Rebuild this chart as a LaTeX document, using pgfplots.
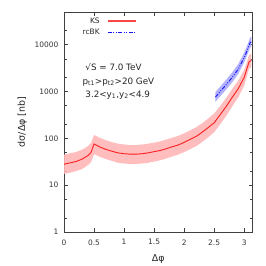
\documentclass[border=0pt]{standalone}
\usepackage{pgfplots}
\pgfplotsset{compat=1.18}
\usepackage{pgfplotstable}
\usepgfplotslibrary{fillbetween}
\usepackage{fontspec}
\setmainfont{DejaVu Sans}
\definecolor{ksred}{RGB}{250,30,30}
\definecolor{kslegend}{RGB}{255,70,70}
\definecolor{ksband}{RGB}{255,182,182}
\definecolor{bkblue}{RGB}{20,20,240}
\definecolor{bkband}{RGB}{170,170,255}
\pgfplotstableread{
x y lo hi
0 28 17.5 45
0.1 30 18.5 48
0.2 32 20 51
0.3 36 22 57
0.4 43 27 68
0.45 50 31 79
0.5 76 46 118
0.52 74 45 115
0.6 65 40 102
0.7 58 36 91
0.8 53 33 83
0.9 49 30 77
1.0 47 29 74
1.1 46 28.5 72
1.2 46 28.5 72
1.3 47 29 74
1.4 49 30 77
1.5 52 32 81
1.6 55 34 86
1.7 60 37 94
1.8 66 41 103
1.9 72 45 113
2.0 82 51 128
2.1 95 59 148
2.2 110 68 172
2.3 135 84 210
2.4 170 105 265
2.5 215 135 340
2.6 320 200 490
2.7 480 300 730
2.8 750 480 1130
2.9 1150 750 1700
3.0 2000 1350 2900
3.05 3200 2250 4500
3.08 4300 3100 6000
3.12 4600 3300 6400
}\kstab
\pgfplotstableread{
x y lo hi
2.52 760 600 970
2.6 1000 790 1280
2.7 1400 1100 1790
2.8 2000 1580 2560
2.9 3000 2370 3840
3.0 5300 4200 6800
3.05 7600 6000 9700
3.1 11200 8800 14300
3.12 11500 9100 14700
}\bktab
\begin{document}
\begin{tikzpicture}
\begin{axis}[
  at={(0,0)}, anchor=south west,
  scale only axis, width=188.7bp, height=220bp,
  ymode=log, xmin=0, xmax=3.14159, ymin=1, ymax=50000,
  xtick={0,0.5,1,1.5,2,2.5,3},
  xticklabels={0,0.5,1,1.5,2,2.5,3},
  ytick={1,10,100,1000,10000},
  yticklabels={1,10,100,1000,10000},
  minor ytick={2,5,20,50,200,500,2000,5000,20000,50000},
  tick align=inside, major tick length=4bp, minor tick length=2.5bp,
  tick style={black!75, line width=0.5pt},
  axis line style={black!75, line width=0.6pt},
  ticklabel style={font=\fontsize{7.5}{9}\selectfont, text=black!80},
  xticklabel style={yshift=-4bp},
  yticklabel style={xshift=-2bp},
  /pgf/number format/assume math mode=true,
  xlabel={Δφ}, ylabel={dσ/Δφ [nb]},
  label style={font=\fontsize{9.5}{11}\selectfont, text=black!85},
  xlabel style={yshift=-3bp},
  ylabel style={yshift=1bp},
]
\addplot[name path=ksu, draw=none, forget plot] table[x=x,y=hi]{\kstab};
\addplot[name path=ksl, draw=none, forget plot] table[x=x,y=lo]{\kstab};
\addplot[ksband, fill opacity=0.9, forget plot] fill between[of=ksu and ksl];
\addplot[name path=bku, draw=none, forget plot] table[x=x,y=hi]{\bktab};
\addplot[name path=bkl, draw=none, forget plot] table[x=x,y=lo]{\bktab};
\addplot[bkband, fill opacity=0.9, forget plot] fill between[of=bku and bkl];
\addplot[color=ksred, line width=0.9pt, no markers] table[x=x,y=y]{\kstab};
\addplot[color=bkblue, line width=0.9pt, no markers, dash pattern=on 4pt off 1.5pt on 1pt off 1.5pt on 1pt off 1.5pt] table[x=x,y=y]{\bktab};
% legend
\node[anchor=east, inner sep=0pt, font=\fontsize{7.5}{9}\selectfont, text=black!85] at (rel axis cs:0.19,0.958) {KS};
\fill[kslegend] ([yshift=-0.8bp]rel axis cs:0.233,0.958) rectangle ([yshift=0.8bp]rel axis cs:0.382,0.958);
\node[anchor=east, inner sep=0pt, font=\fontsize{7.5}{9}\selectfont, text=black!85] at (rel axis cs:0.19,0.908) {rcBK};
\draw[draw=bkblue, line width=0.9pt, dash pattern=on 4pt off 1.5pt on 1pt off 1.5pt on 1pt off 1.5pt] (rel axis cs:0.233,0.908) -- (rel axis cs:0.382,0.908);
\node[anchor=base west, font=\fontsize{8.8}{10}\selectfont, text=black!85] at (rel axis cs:0.095,0.732) {√S = 7.0 TeV};
\node[anchor=base west, font=\fontsize{8.8}{10}\selectfont, text=black!85] at (rel axis cs:0.08,0.672) {p\textsubscript{t1}>p\textsubscript{t2}>20 GeV};
\node[anchor=base west, font=\fontsize{8.8}{10}\selectfont, text=black!85] at (rel axis cs:0.095,0.612) {3.2<y\textsubscript{1},y\textsubscript{2}<4.9};
\end{axis}
\pgfresetboundingbox
\path[use as bounding box] (-64bp,-34bp) rectangle (202bp,232bp);
\end{tikzpicture}
\end{document}
